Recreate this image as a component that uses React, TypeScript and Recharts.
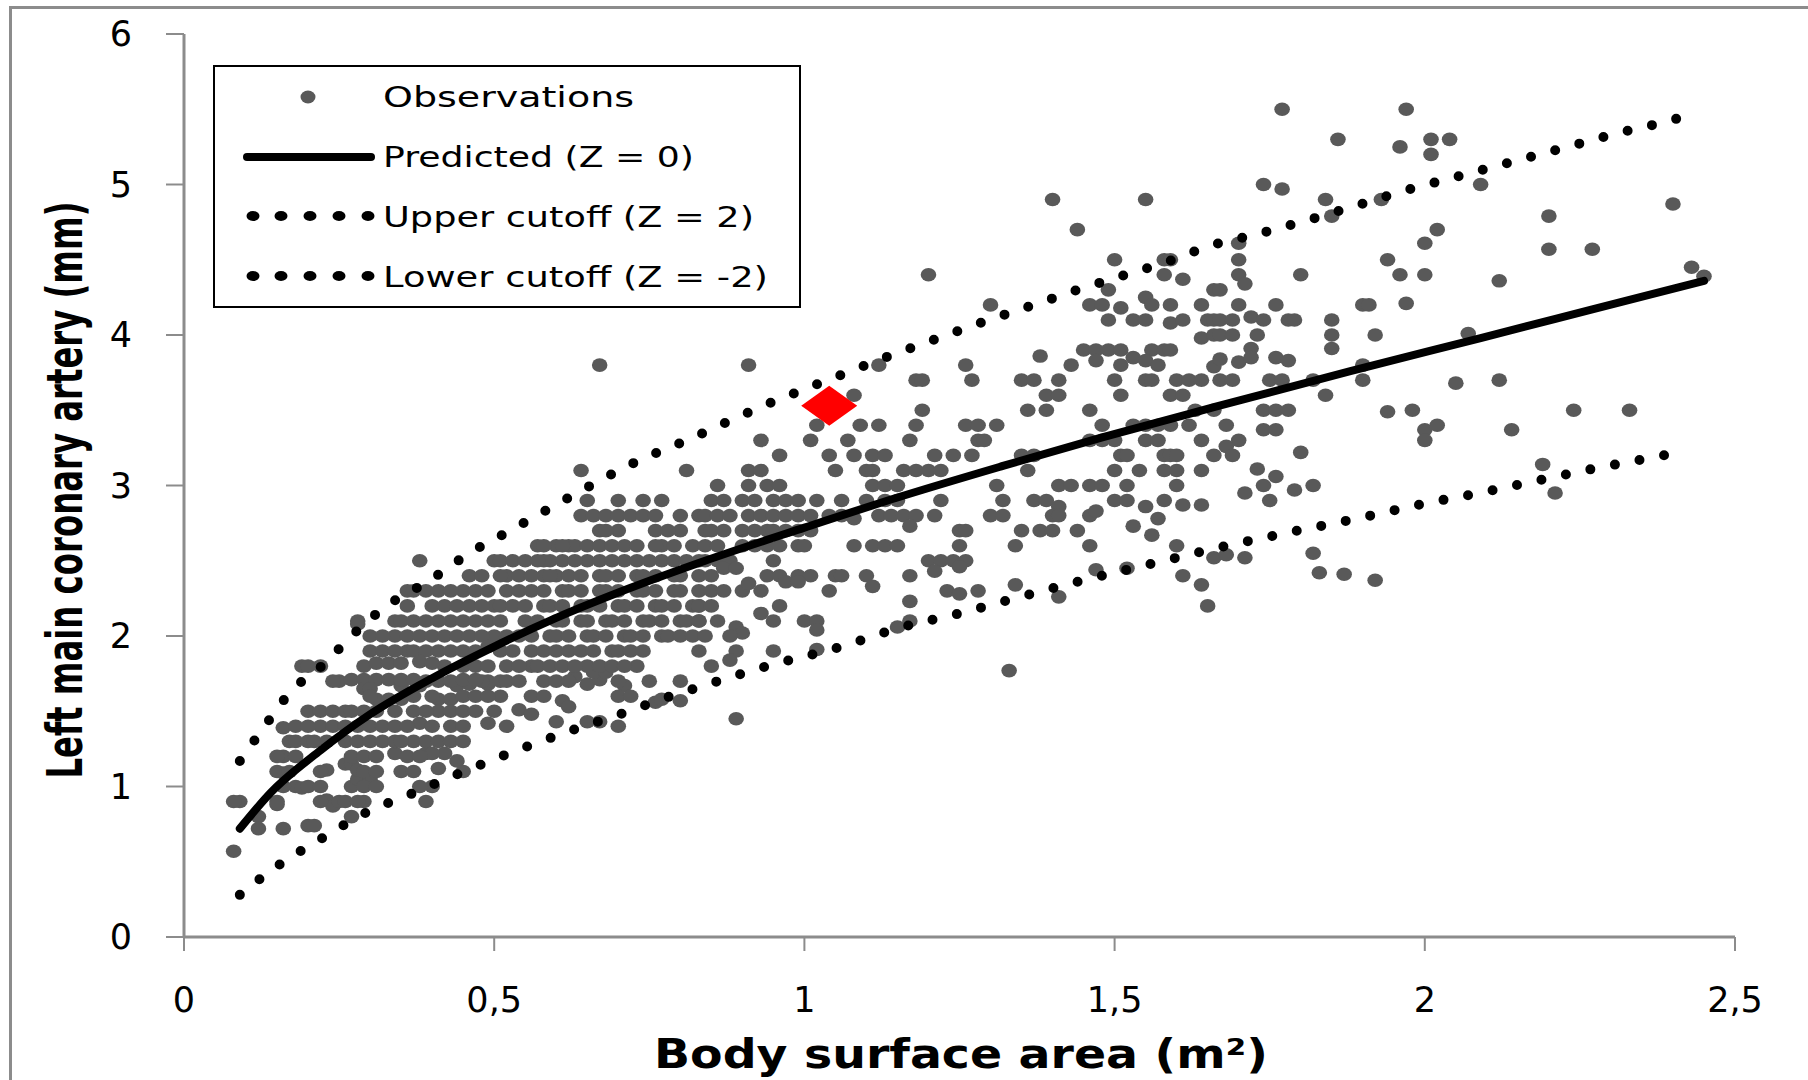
import React from 'react';
import { ScatterChart, Scatter, XAxis, YAxis, Legend, Label } from 'recharts';

// body surface area (m²), left main coronary artery (mm)
const obsSmallBsa: [number, number][] = [
  [0.08, 0.57], [0.09, 0.9], [0.12, 0.8], [0.12, 0.72], [0.16, 0.72], [0.2, 0.74], [0.21, 0.74], [0.15, 0.9],
  [0.16, 1.09], [0.16, 1.2], [0.18, 1.2], [0.18, 1.0], [0.19, 0.99], [0.23, 0.91], [0.24, 0.87], [0.25, 0.9],
  [0.29, 0.9], [0.27, 0.8], [0.27, 1.0], [0.28, 1.05], [0.3, 1.05], [0.26, 1.15], [0.27, 1.15], [0.28, 1.11],
  [0.23, 1.11], [0.39, 0.9], [0.4, 1.0], [0.35, 1.1], [0.37, 1.1], [0.41, 1.12], [0.44, 1.17], [0.42, 1.22],
  [0.39, 1.22], [0.34, 1.22], [0.17, 1.3], [0.18, 1.3], [0.2, 1.3], [0.16, 1.39], [0.2, 1.5], [0.22, 1.5],
  [0.24, 1.5], [0.22, 1.4], [0.24, 1.4], [0.26, 1.4], [0.28, 1.4], [0.26, 1.3], [0.28, 1.3], [0.3, 1.3],
  [0.32, 1.3], [0.29, 1.5], [0.31, 1.5], [0.31, 1.58], [0.33, 1.58], [0.35, 1.58], [0.34, 1.5], [0.37, 1.5],
  [0.38, 1.42], [0.4, 1.4], [0.43, 1.4], [0.45, 1.4], [0.37, 1.3], [0.39, 1.3], [0.41, 1.3], [0.43, 1.3],
  [0.4, 1.22], [0.41, 1.58], [0.43, 1.58], [0.41, 1.5], [0.43, 1.5], [0.35, 1.67], [0.38, 1.67], [0.44, 1.67],
  [0.46, 1.68], [0.49, 1.68], [0.51, 1.6], [0.49, 1.42], [0.52, 1.4], [0.54, 1.51], [0.56, 1.48], [0.61, 1.57],
  [0.62, 1.53], [0.6, 1.43], [0.65, 1.43], [0.67, 1.43], [0.7, 1.4], [0.76, 1.56], [0.77, 1.58], [0.8, 1.57],
  [0.71, 1.67], [0.75, 1.7], [0.8, 1.7], [0.65, 1.68], [0.67, 1.71], [0.63, 1.73], [0.66, 1.76], [0.68, 1.76],
  [0.58, 1.7], [0.25, 1.7], [0.19, 1.8], [0.22, 1.8], [0.27, 1.71], [0.29, 1.71], [0.31, 1.71], [0.33, 1.71],
  [0.35, 1.71], [0.37, 1.71], [0.29, 1.65], [0.3, 1.65], [0.89, 1.45],
];

// extra readings from the densest part of the cloud
const obsDenseBsa: [number, number][] = [
  [0.39, 2.3], [0.45, 2.3], [0.47, 2.3], [0.49, 2.3], [0.46, 2.4], [0.36, 2.2], [0.4, 2.2], [0.5, 2.2],
  [0.28, 2.1], [0.34, 2.1], [0.43, 2.1], [0.45, 2.1], [0.47, 2.1], [0.49, 2.1], [0.51, 2.1],
  [0.34, 2.0], [0.36, 2.0], [0.5, 2.0], [0.52, 2.0], [0.36, 1.9], [0.2, 1.8], [0.29, 1.8], [0.42, 1.8],
  [0.24, 1.7], [0.39, 1.7], [0.41, 1.7], [0.43, 1.7], [0.49, 1.7], [0.51, 1.7],
  [0.3, 1.6], [0.37, 1.6], [0.4, 1.6], [0.45, 1.6], [0.47, 1.6], [0.49, 1.6],
  [0.26, 1.5], [0.27, 1.5], [0.39, 1.5], [0.45, 1.5], [0.47, 1.5], [0.5, 1.5],
  [0.18, 1.4], [0.2, 1.4], [0.3, 1.4], [0.32, 1.4], [0.34, 1.4], [0.36, 1.4],
  [0.21, 1.3], [0.23, 1.3], [0.34, 1.3], [0.35, 1.3], [0.45, 1.3],
  [0.15, 1.2], [0.27, 1.2], [0.29, 1.2], [0.31, 1.2], [0.36, 1.2], [0.38, 1.2],
  [0.15, 1.1], [0.17, 1.1], [0.22, 1.1], [0.29, 1.1], [0.31, 1.1], [0.45, 1.1],
  [0.16, 1.0], [0.2, 1.0], [0.22, 1.0], [0.29, 1.0], [0.31, 1.0], [0.38, 1.0],
  [0.08, 0.9], [0.15, 0.88], [0.22, 0.9], [0.26, 0.9], [0.28, 0.9],
  [0.67, 2.7], [0.7, 2.7], [0.8, 2.7], [0.84, 2.7], [0.57, 2.6], [0.6, 2.6], [0.62, 2.6], [0.63, 2.6],
  [0.77, 2.6], [0.5, 2.5], [0.59, 2.5], [0.77, 2.5], [0.79, 2.5], [0.52, 2.4], [0.58, 2.4], [0.6, 2.4],
  [0.56, 1.8], [0.65, 1.8], [0.67, 1.8], [0.73, 1.8], [0.48, 1.7], [0.52, 1.7], [0.54, 1.7], [0.6, 1.7],
  [0.62, 1.7], [0.7, 1.7], [0.56, 1.6], [0.58, 1.6], [0.7, 1.6], [0.72, 1.6],
];

const obsMediumBsa: [number, number][] = [
  [0.28, 2.08], [0.3, 2.0], [0.32, 2.0], [0.3, 1.9], [0.32, 1.9], [0.34, 1.9], [0.37, 1.9], [0.39, 1.9],
  [0.31, 1.82], [0.33, 1.82], [0.35, 1.82], [0.38, 1.83], [0.4, 1.82], [0.36, 2.3], [0.37, 2.3], [0.38, 2.5],
  [0.41, 2.3], [0.43, 2.3], [0.42, 2.2], [0.44, 2.2], [0.46, 2.2], [0.48, 2.2], [0.51, 2.2], [0.35, 2.1],
  [0.37, 2.1], [0.39, 2.1], [0.41, 2.1], [0.38, 2.0], [0.4, 2.0], [0.42, 2.0], [0.44, 2.0], [0.46, 2.0],
  [0.48, 2.0], [0.41, 1.9], [0.43, 1.9], [0.45, 1.9], [0.47, 1.9], [0.49, 1.93], [0.45, 1.8], [0.47, 1.8],
  [0.49, 1.8], [0.52, 1.8], [0.54, 1.8], [0.45, 1.71], [0.47, 1.71], [0.51, 1.9], [0.53, 1.9], [0.52, 2.3],
  [0.54, 2.3], [0.48, 2.4], [0.51, 2.4], [0.54, 2.4], [0.56, 2.4], [0.59, 2.4], [0.51, 2.5], [0.53, 2.5],
  [0.55, 2.5], [0.58, 2.6], [0.58, 2.5], [0.61, 2.6], [0.65, 2.5],
  [0.55, 2.1], [0.57, 2.1], [0.6, 2.1], [0.61, 2.1], [0.64, 2.1], [0.65, 2.1], [0.68, 2.1], [0.69, 2.1],
  [0.71, 2.1], [0.74, 2.1], [0.75, 2.1], [0.77, 2.1], [0.8, 2.1], [0.81, 2.1], [0.83, 2.1],
  [0.54, 2.0], [0.56, 2.0], [0.59, 2.0], [0.6, 2.0], [0.62, 2.0], [0.65, 2.0], [0.66, 2.0], [0.68, 2.0],
  [0.71, 2.0], [0.72, 2.0], [0.74, 2.0], [0.77, 2.0], [0.78, 2.0], [0.8, 2.0], [0.82, 2.0],
  [0.53, 2.2], [0.55, 2.2], [0.58, 2.2], [0.59, 2.2], [0.61, 2.2], [0.64, 2.2], [0.65, 2.2], [0.67, 2.2],
  [0.7, 2.2], [0.71, 2.2], [0.73, 2.2], [0.76, 2.2], [0.77, 2.2], [0.79, 2.2], [0.82, 2.2], [0.83, 2.2],
  [0.56, 2.3], [0.58, 2.3], [0.61, 2.3], [0.62, 2.3], [0.64, 2.3], [0.67, 2.3], [0.68, 2.3], [0.7, 2.3],
  [0.73, 2.3], [0.74, 2.3], [0.76, 2.3], [0.79, 2.3], [0.8, 2.3],
  [0.62, 2.4], [0.64, 2.4], [0.67, 2.4], [0.68, 2.4], [0.7, 2.4], [0.73, 2.4], [0.74, 2.4], [0.76, 2.4],
  [0.79, 2.4], [0.8, 2.4],
  [0.57, 2.5], [0.61, 2.5], [0.63, 2.5], [0.67, 2.5], [0.69, 2.5], [0.71, 2.5], [0.73, 2.5], [0.75, 2.5],
  [0.81, 2.5], [0.84, 2.5],
  [0.65, 2.6], [0.67, 2.6], [0.69, 2.6], [0.71, 2.6], [0.73, 2.6], [0.76, 2.6], [0.79, 2.6], [0.82, 2.6],
  [0.68, 2.7], [0.76, 2.7], [0.78, 2.7],
  [0.64, 2.8], [0.66, 2.8], [0.68, 2.8], [0.7, 2.8], [0.72, 2.8], [0.74, 2.8], [0.76, 2.8], [0.8, 2.8], [0.83, 2.8],
  [0.65, 2.9], [0.7, 2.9], [0.74, 2.9], [0.77, 2.9], [0.64, 3.1], [0.81, 3.1], [0.67, 3.8],
  [0.56, 1.9], [0.58, 1.9], [0.6, 1.9], [0.62, 1.9], [0.64, 1.9], [0.66, 1.9], [0.69, 1.9], [0.7, 1.9],
  [0.72, 1.9], [0.74, 1.9], [0.83, 1.9], [0.57, 1.8], [0.59, 1.8], [0.61, 1.8], [0.63, 1.8], [0.69, 1.8], [0.71, 1.8],
];

const obsLargeBsa: [number, number][] = [
  [1.19, 3.5], [1.36, 3.5], [1.39, 3.5], [1.46, 3.5], [1.63, 3.5], [1.66, 3.5],
  [1.02, 3.4], [1.09, 3.4], [1.12, 3.4], [1.18, 3.4], [1.26, 3.4], [1.28, 3.4], [1.31, 3.4], [1.48, 3.4],
  [1.53, 3.4], [1.55, 3.4], [1.57, 3.4], [1.59, 3.4], [1.62, 3.4],
  [0.93, 3.3], [1.01, 3.3], [1.07, 3.3], [1.17, 3.3], [1.28, 3.3], [1.29, 3.3], [1.46, 3.3], [1.48, 3.3],
  [1.5, 3.3], [1.55, 3.3], [1.57, 3.3], [1.64, 3.3],
  [0.96, 3.2], [1.04, 3.2], [1.08, 3.2], [1.11, 3.2], [1.13, 3.2], [1.21, 3.2], [1.24, 3.2], [1.27, 3.2],
  [1.35, 3.2], [1.37, 3.2], [1.51, 3.2], [1.52, 3.2], [1.58, 3.2], [1.59, 3.2], [1.6, 3.2], [1.66, 3.2],
  [0.91, 3.1], [0.93, 3.1], [1.05, 3.1], [1.1, 3.1], [1.11, 3.1], [1.16, 3.1], [1.18, 3.1], [1.2, 3.1],
  [1.22, 3.1], [1.36, 3.1], [1.5, 3.1], [1.54, 3.1], [1.58, 3.1], [1.6, 3.1], [1.64, 3.1],
  [0.86, 3.0], [0.91, 3.0], [0.94, 3.0], [0.96, 3.0], [1.11, 3.0], [1.13, 3.0], [1.15, 3.0], [1.31, 3.0],
  [1.41, 3.0], [1.43, 3.0], [1.46, 3.0], [1.48, 3.0], [1.52, 3.0], [1.6, 3.0],
  [0.85, 2.9], [0.87, 2.9], [0.9, 2.9], [0.92, 2.9], [0.95, 2.9], [0.97, 2.9], [0.99, 2.9], [1.02, 2.9],
  [1.06, 2.9], [1.1, 2.9], [1.13, 2.9], [1.15, 2.9], [1.22, 2.9], [1.32, 2.9], [1.37, 2.9], [1.39, 2.9],
  [1.41, 2.86], [1.5, 2.9], [1.52, 2.9], [1.55, 2.86], [1.58, 2.9], [1.61, 2.87], [1.64, 2.87],
  [0.84, 2.8], [0.86, 2.8], [0.88, 2.8], [0.91, 2.8], [0.93, 2.8], [0.95, 2.8], [0.97, 2.8], [0.99, 2.8],
  [1.01, 2.8], [1.04, 2.8], [1.06, 2.8], [1.08, 2.78], [1.12, 2.8], [1.14, 2.8], [1.16, 2.8], [1.18, 2.8],
  [1.21, 2.8], [1.3, 2.8], [1.32, 2.8], [1.4, 2.8], [1.41, 2.8], [1.46, 2.8], [1.47, 2.83], [1.57, 2.78],
  [0.85, 2.7], [0.87, 2.7], [0.9, 2.7], [0.92, 2.7], [0.94, 2.7], [0.95, 2.7], [0.97, 2.7], [0.99, 2.7],
  [1.01, 2.7], [1.17, 2.73], [1.25, 2.7], [1.26, 2.7], [1.35, 2.7], [1.38, 2.7], [1.4, 2.7], [1.44, 2.7],
  [1.53, 2.73], [1.56, 2.67],
  [0.84, 2.6], [0.86, 2.6], [0.9, 2.6], [0.92, 2.6], [0.94, 2.6], [0.96, 2.6], [0.99, 2.6], [1.0, 2.6],
  [1.08, 2.6], [1.11, 2.6], [1.13, 2.6], [1.15, 2.6], [1.25, 2.6], [1.34, 2.6], [1.46, 2.6], [1.6, 2.6],
  [0.83, 2.5], [0.86, 2.5], [0.88, 2.5], [0.95, 2.5], [1.2, 2.5], [1.22, 2.5], [1.24, 2.5], [1.26, 2.5], [1.66, 2.52],
  [0.83, 2.4], [0.85, 2.4], [0.87, 2.45], [0.89, 2.45], [0.94, 2.4], [0.96, 2.4], [0.99, 2.4], [1.01, 2.4],
  [1.05, 2.4], [1.06, 2.4], [1.1, 2.4], [1.17, 2.4], [1.21, 2.43], [1.25, 2.46], [1.47, 2.44], [1.52, 2.45], [1.61, 2.4],
  [0.83, 2.3], [0.85, 2.3], [0.87, 2.3], [0.9, 2.3], [0.91, 2.35], [0.93, 2.3], [0.97, 2.36], [0.99, 2.36],
  [1.04, 2.3], [1.11, 2.33], [1.23, 2.3], [1.25, 2.28], [1.28, 2.3], [1.34, 2.34], [1.41, 2.26], [1.64, 2.34],
  [0.83, 2.2], [0.85, 2.2], [0.93, 2.15], [0.96, 2.2], [1.17, 2.23], [1.65, 2.2],
  [0.83, 2.1], [0.86, 2.1], [0.89, 2.06], [0.9, 2.02], [0.95, 2.1], [1.0, 2.1], [1.02, 2.1], [1.02, 2.04],
  [1.15, 2.06], [1.17, 2.1], [0.84, 2.0], [0.88, 2.0], [0.89, 1.9], [0.95, 1.9], [1.02, 1.91], [0.88, 1.84],
  [0.85, 1.8], [1.33, 1.77],
  [1.4, 4.9], [1.55, 4.9], [1.44, 4.7], [1.2, 4.4], [0.91, 3.8], [1.5, 4.5], [1.58, 4.5], [1.59, 4.5],
  [1.58, 4.4], [1.61, 4.37], [1.66, 4.3], [1.49, 4.3], [1.3, 4.2], [1.46, 4.2], [1.48, 4.2], [1.51, 4.18],
  [1.55, 4.25], [1.56, 4.2], [1.59, 4.2], [1.64, 4.2], [1.49, 4.1], [1.53, 4.1], [1.55, 4.1], [1.59, 4.08],
  [1.61, 4.1], [1.65, 4.1], [1.66, 4.1], [1.64, 3.98], [1.66, 4.0], [1.38, 3.86], [1.45, 3.9], [1.47, 3.9],
  [1.49, 3.9], [1.51, 3.9], [1.47, 3.83], [1.56, 3.9], [1.58, 3.9], [1.59, 3.9], [1.53, 3.85], [1.55, 3.83],
  [1.43, 3.8], [1.51, 3.8], [1.57, 3.8], [1.66, 3.79], [1.12, 3.8], [1.26, 3.8], [1.18, 3.7], [1.19, 3.7],
  [1.27, 3.7], [1.35, 3.7], [1.37, 3.7], [1.41, 3.7], [1.5, 3.7], [1.55, 3.7], [1.56, 3.7], [1.6, 3.7],
  [1.62, 3.7], [1.64, 3.7], [1.08, 3.6], [1.39, 3.6], [1.41, 3.6], [1.51, 3.6], [1.59, 3.6], [1.61, 3.6],
];

const obsAdultBsa: [number, number][] = [
  [1.77, 5.5], [1.97, 5.5], [1.86, 5.3], [1.96, 5.25], [2.01, 5.3], [2.04, 5.3], [2.01, 5.2], [1.74, 5.0],
  [1.77, 4.97], [2.09, 5.0], [1.84, 4.9], [1.93, 4.9], [1.85, 4.79], [2.4, 4.87], [2.2, 4.79], [2.02, 4.7],
  [1.7, 4.61], [2.0, 4.61], [2.2, 4.57], [2.27, 4.57], [1.7, 4.5], [1.94, 4.5], [1.7, 4.4], [1.71, 4.34],
  [1.8, 4.4], [1.96, 4.4], [2.0, 4.4], [2.12, 4.36], [2.43, 4.45], [2.45, 4.39], [1.67, 4.3], [1.7, 4.2],
  [1.76, 4.2], [1.9, 4.2], [1.91, 4.2], [1.97, 4.21], [1.67, 4.1], [1.69, 4.1], [1.72, 4.12], [1.74, 4.1],
  [1.78, 4.1], [1.79, 4.1], [1.85, 4.1], [1.67, 4.0], [1.69, 4.0], [1.73, 4.0], [1.85, 4.0], [1.92, 4.0],
  [2.07, 4.01], [1.72, 3.91], [1.85, 3.91], [1.7, 3.82], [1.67, 3.84], [1.72, 3.85], [1.76, 3.85], [1.78, 3.83],
  [1.9, 3.8],
  [1.67, 3.7], [1.69, 3.7], [1.75, 3.7], [1.77, 3.7], [1.82, 3.7], [1.9, 3.7], [2.05, 3.68], [2.12, 3.7],
  [1.84, 3.6], [1.74, 3.5], [1.76, 3.5], [1.78, 3.5], [1.94, 3.49], [1.98, 3.5], [2.24, 3.5], [2.33, 3.5],
  [1.68, 3.4], [1.74, 3.37], [1.76, 3.37], [2.0, 3.37], [2.02, 3.4], [2.14, 3.37], [2.0, 3.3], [1.7, 3.3],
  [1.68, 3.26], [1.69, 3.2], [1.8, 3.22], [2.19, 3.14], [1.73, 3.11], [1.76, 3.06], [1.74, 3.0], [1.82, 3.0],
  [1.79, 2.97], [1.71, 2.95], [1.75, 2.9], [2.21, 2.95], [1.68, 2.54], [1.71, 2.52], [1.82, 2.55], [1.83, 2.42],
  [1.87, 2.41], [1.92, 2.37],
];

const highlightedPatient: [number, number][] = [[1.04, 3.53]];

const predictedCurve: [number, number][] = [
  [0.09, 0.72], [0.14, 0.96], [0.22, 1.24], [0.3, 1.48], [0.4, 1.72], [0.5, 1.93], [0.6, 2.12], [0.72, 2.32],
  [0.84, 2.5], [1.0, 2.72], [1.15, 2.92], [1.32, 3.13], [1.48, 3.32], [1.66, 3.52], [1.88, 3.76],
  [2.09, 3.98], [2.27, 4.17], [2.45, 4.36],
];

const upperCutoff: [number, number][] = [
  [0.09, 1.17], [0.13, 1.4], [0.17, 1.62], [0.23, 1.83], [0.27, 2.0], [0.32, 2.18], [0.4, 2.38], [0.46, 2.55],
  [0.53, 2.71], [0.59, 2.85], [0.66, 3.01], [0.73, 3.16], [0.81, 3.3], [0.94, 3.54], [1.05, 3.72], [1.13, 3.85],
  [1.21, 3.97], [1.29, 4.09], [1.37, 4.2], [1.44, 4.3], [1.51, 4.39], [1.58, 4.48], [1.66, 4.6], [1.72, 4.66],
  [1.8, 4.75], [1.89, 4.86], [1.96, 4.95], [2.05, 5.05], [2.14, 5.15], [2.23, 5.25], [2.31, 5.34], [2.4, 5.43],
  [2.44, 5.48],
];

const lowerCutoff: [number, number][] = [
  [0.09, 0.28], [0.15, 0.47], [0.22, 0.65], [0.3, 0.84], [0.36, 0.94], [0.44, 1.08], [0.53, 1.23], [0.63, 1.38],
  [0.71, 1.49], [0.77, 1.58], [0.83, 1.66], [0.94, 1.8], [1.06, 1.93], [1.15, 2.05], [1.25, 2.15], [1.33, 2.24],
  [1.44, 2.36], [1.57, 2.49], [1.66, 2.58], [1.76, 2.67], [1.89, 2.78], [2.0, 2.88], [2.1, 2.96], [2.19, 3.04],
  [2.27, 3.11], [2.36, 3.18], [2.41, 3.22],
];

const xTicks = [0, 0.5, 1, 1.5, 2, 2.5];
const yTicks = [0, 1, 2, 3, 4, 5, 6];

const legendLabels = ['Observations', 'Predicted (Z = 0)', 'Upper cutoff (Z = 2)', 'Lower cutoff (Z = -2)'];

const toPoints = (rows: [number, number][]) => rows.map(([bsa, mm]) => ({ bsa, mm }));

const observations = toPoints([...obsSmallBsa, ...obsDenseBsa, ...obsMediumBsa, ...obsLargeBsa, ...obsAdultBsa]);

const FONT = "'DejaVu Sans', Verdana, sans-serif";
const GREY = '#595959';
const AXIS = '#8c8c8c';

const ObsDot = (props: any) => <ellipse cx={props.cx} cy={props.cy} rx={7.8} ry={6.8} fill={GREY} />;
const Diamond = (props: any) => {
  const { cx, cy } = props;
  return <polygon points={`${cx},${cy - 20} ${cx + 28},${cy} ${cx},${cy + 20} ${cx - 28},${cy}`} fill="#ff0000" />;
};
const NoMarker = () => <g />;

const commaFormat = (v: number) => String(v).replace('.', ',');

function LegendBox() {
  const textWidths = [251, 311, 371, 385];
  return (
    <svg width={590} height={245} style={{ display: 'block' }}>
      <rect x={1} y={1} width={586} height={241} fill="#fff" stroke="#000" strokeWidth={2} />
      <ellipse cx={95} cy={32} rx={7.5} ry={6.5} fill={GREY} />
      <line x1={34} y1={92} x2={158} y2={92} stroke="#000" strokeWidth={8} strokeLinecap="round" />
      {[151, 211].map(cy => (
        <g key={cy}>
          {[40, 68, 97, 126, 155].map(cx => (
            <ellipse key={cx} cx={cx} cy={cy} rx={6.5} ry={5} fill="#000" />
          ))}
        </g>
      ))}
      {legendLabels.map((label, i) => (
        <text
          key={label}
          x={170}
          y={42 + i * 60}
          fontSize={28}
          fontFamily={FONT}
          fill="#000"
          textLength={textWidths[i]}
          lengthAdjust="spacingAndGlyphs"
        >
          {label}
        </text>
      ))}
    </svg>
  );
}

export default function App() {
  return (
    <div
      style={{
        position: 'absolute',
        left: 0,
        top: 0,
        width: 1808,
        height: 1080,
        overflow: 'hidden',
        background: '#fff',
        fontFamily: FONT,
      }}
    >
      <div
        style={{
          position: 'absolute',
          left: 9,
          top: 6,
          width: 1900,
          height: 1200,
          borderLeft: `3px solid ${AXIS}`,
          borderTop: `3px solid ${AXIS}`,
        }}
      />
      <div style={{ position: 'absolute', left: 0, top: 0 }}>
        <ScatterChart width={1808} height={1080} margin={{ top: 34, right: 73, left: 84, bottom: 43 }}>
          <XAxis
            type="number"
            dataKey="bsa"
            domain={[0, 2.5]}
            ticks={xTicks}
            tickFormatter={commaFormat}
            height={100}
            axisLine={{ stroke: AXIS, strokeWidth: 3 }}
            tickLine={{ stroke: AXIS, strokeWidth: 2 }}
            tickSize={14}
            tickMargin={36}
            tick={{ fontSize: 35, fill: '#000', fontFamily: FONT }}
          >
            <Label
              content={() => (
                <text
                  x={961}
                  y={1068}
                  textAnchor="middle"
                  fontSize={40}
                  fontWeight="bold"
                  fontFamily={FONT}
                  fill="#000"
                  textLength={614}
                  lengthAdjust="spacingAndGlyphs"
                >
                  Body surface area (m²)
                </text>
              )}
            />
          </XAxis>
          <YAxis
            type="number"
            dataKey="mm"
            domain={[0, 6]}
            ticks={yTicks}
            width={100}
            axisLine={{ stroke: AXIS, strokeWidth: 3 }}
            tickLine={{ stroke: AXIS, strokeWidth: 2 }}
            tickSize={18}
            tickMargin={34}
            tick={{ fontSize: 35, fill: '#000', fontFamily: FONT }}
          >
            <Label
              content={() => (
                <text
                  x={82}
                  y={490}
                  transform="rotate(-90, 82, 490)"
                  textAnchor="middle"
                  fontSize={50}
                  fontWeight="bold"
                  fontFamily={FONT}
                  fill="#000"
                  textLength={577}
                  lengthAdjust="spacingAndGlyphs"
                >
                  Left main coronary artery (mm)
                </text>
              )}
            />
          </YAxis>
          <Legend
            layout="vertical"
            align="center"
            verticalAlign="middle"
            wrapperStyle={{ left: 213, top: 65, width: 590, height: 245 }}
            content={() => <LegendBox />}
          />
          <Scatter name="Observations" data={observations} shape={ObsDot} isAnimationActive={false} />
          <Scatter
            name="Upper cutoff (Z = 2)"
            data={toPoints(upperCutoff)}
            shape={NoMarker}
            line={{ stroke: '#000', strokeWidth: 10, strokeDasharray: '0 25', strokeLinecap: 'round' }}
            lineJointType="monotoneX"
            isAnimationActive={false}
          />
          <Scatter
            name="Lower cutoff (Z = -2)"
            data={toPoints(lowerCutoff)}
            shape={NoMarker}
            line={{ stroke: '#000', strokeWidth: 10, strokeDasharray: '0 25', strokeLinecap: 'round' }}
            lineJointType="monotoneX"
            isAnimationActive={false}
          />
          <Scatter
            name="Predicted (Z = 0)"
            data={toPoints(predictedCurve)}
            shape={NoMarker}
            line={{ stroke: '#000', strokeWidth: 8, strokeLinecap: 'round' }}
            lineJointType="monotoneX"
            isAnimationActive={false}
          />
          <Scatter name="Patient" data={toPoints(highlightedPatient)} shape={Diamond} isAnimationActive={false} />
        </ScatterChart>
      </div>
    </div>
  );
}
